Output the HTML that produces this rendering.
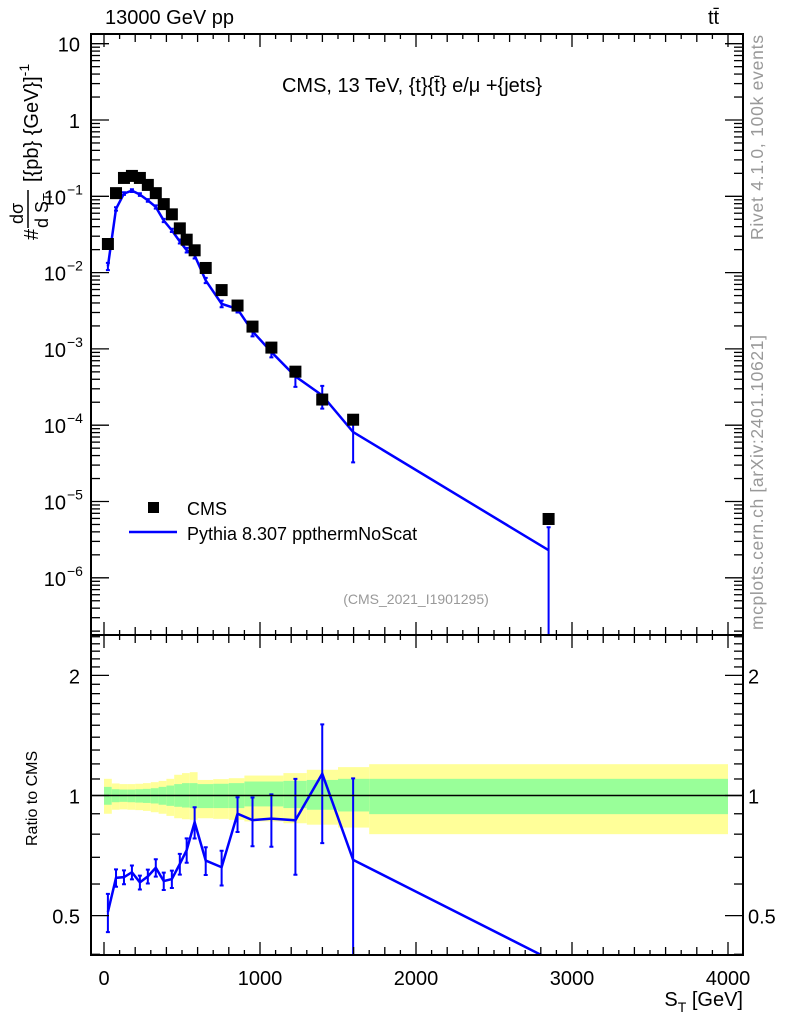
<!DOCTYPE html>
<html><head><meta charset="utf-8"><style>
html,body{margin:0;padding:0;background:#fff;overflow:hidden;width:786px;height:1024px;}
svg{display:block;font-family:"Liberation Sans",sans-serif;}
</style></head><body>
<svg id="chart" width="786" height="1024" viewBox="0 0 786 1024" xmlns="http://www.w3.org/2000/svg" overflow="hidden">
<g id="ratio-bands"></g>
<g id="ratio-series"></g>
<g id="main-series"></g>
<g id="axes"></g>
<text x="105" y="24" font-size="20">13000 GeV pp</text>
<text x="708" y="24" font-size="20">tt̄</text>
<text x="412" y="92" font-size="20" text-anchor="middle">CMS, 13 TeV, {t}{t̄} e/μ +{jets}</text>
<text x="416" y="604" font-size="14" fill="#999" text-anchor="middle">(CMS_2021_I1901295)</text>
<rect x="148" y="502" width="11" height="11" fill="#000"/>
<text x="187" y="515" font-size="18">CMS</text>
<line x1="129" y1="532" x2="177" y2="532" stroke="#0000ff" stroke-width="2.5"/>
<text x="187" y="540" font-size="18">Pythia 8.307 ppthermNoScat</text>
<text transform="translate(763,240) rotate(-90)" font-size="17.5" fill="#999" textLength="205">Rivet 4.1.0,  100k events</text>
<text transform="translate(763,630) rotate(-90)" font-size="17.5" fill="#999" textLength="295">mcplots.cern.ch [arXiv:2401.10621]</text>
<g transform="rotate(-90)">
  <text x="-240" y="38" font-size="20">#</text>
  <text x="-224" y="23" font-size="18">dσ</text>
  <line x1="-228" y1="28" x2="-190" y2="28" stroke="#000" stroke-width="1.5"/>
  <text x="-228" y="48" font-size="18">d S<tspan dy="4" font-size="13">T</tspan></text>
  <text x="-182" y="38" font-size="20">[{pb} {GeV}]<tspan dy="-9" font-size="14">-1</tspan></text>
</g>
<text transform="translate(37,846) rotate(-90)" font-size="16">Ratio to CMS</text>
<text x="743" y="1006" font-size="20" text-anchor="end">S<tspan dy="6" font-size="14">T</tspan><tspan dy="-6"> [GeV]</tspan></text>
</svg>
<script>
const binLow  = [0,50,100,150,200,250,300,350,400,450,500,550,600,700,800,900,1000,1150,1300,1500,1700];
const binHigh = [50,100,150,200,250,300,350,400,450,500,550,600,700,800,900,1000,1150,1300,1500,1700,4000];
const xCenters = [25,77,128,179,230,281,332,383,435,486,530,581,652,754,856,952,1073,1227,1399,1597,2850];
const cmsValues = [0.0237,0.110,0.174,0.185,0.174,0.141,0.110,0.079,0.058,0.038,0.027,0.0196,0.0115,0.0059,0.0037,0.00196,0.00104,0.000503,0.000217,0.000118,5.9e-6];
const mcValues = [0.0121,0.0684,0.1086,0.1188,0.1054,0.0884,0.0725,0.0482,0.0358,0.0256,0.0197,0.0168,0.0079,0.0039,0.00333,0.0017,0.00091,0.000436,0.000246,0.0000814,2.3e-6];
const mcRelErr = [0.11,0.05,0.04,0.04,0.04,0.04,0.05,0.05,0.05,0.06,0.07,0.09,0.08,0.1,0.1,0.14,0.15,0.27,0.33,0.6,1.0];
const yellowUp = [1.101,1.072,1.068,1.068,1.070,1.074,1.080,1.088,1.101,1.127,1.138,1.144,1.094,1.099,1.105,1.122,1.122,1.138,1.160,1.178,1.198];
const yellowDn = [0.900,0.921,0.923,0.921,0.919,0.915,0.908,0.900,0.889,0.877,0.872,0.869,0.877,0.874,0.869,0.861,0.861,0.852,0.845,0.831,0.800];
const greenUp = [1.051,1.037,1.035,1.035,1.037,1.039,1.043,1.051,1.059,1.068,1.074,1.074,1.068,1.070,1.074,1.084,1.084,1.088,1.094,1.101,1.101];
const greenDn = [0.948,0.962,0.964,0.962,0.960,0.958,0.955,0.948,0.942,0.937,0.933,0.930,0.930,0.930,0.930,0.939,0.939,0.930,0.921,0.912,0.898];
const xTicks = [0,1000,2000,3000,4000];

const NS="http://www.w3.org/2000/svg";
const L=91,R=743,MT=34,MB=635,RT=635,RB=955;
const X=v=>104+v*0.1560;
const YM=v=>120-Math.log10(v)*76.3;
const YR=v=>795.5-Math.log10(v)*399;
function mk(tag,attrs,parent){const e=document.createElementNS(NS,tag);for(const k in attrs)e.setAttribute(k,attrs[k]);parent.appendChild(e);return e;}
const clipM=v=>Math.max(MT-5,Math.min(MB+5,v));
const clipR=v=>Math.max(RT-5,Math.min(RB+5,v));

const gB=document.getElementById('ratio-bands');
for(let i=0;i<binLow.length;i++){
  const x1=X(binLow[i]),x2=X(binHigh[i]);
  const y=mk('rect',{x:x1,y:YR(yellowUp[i]),width:x2-x1,height:YR(yellowDn[i])-YR(yellowUp[i]),fill:'#ffff99'},gB);
  
  
  const g=mk('rect',{x:x1,y:YR(greenUp[i]),width:x2-x1,height:YR(greenDn[i])-YR(greenUp[i]),fill:'#99ff99'},gB);
  
  
}
const ax=document.getElementById('axes');
mk('line',{x1:L,x2:R,y1:YR(1),y2:YR(1),stroke:'#000','stroke-width':1.5},ax);

const defs=mk('defs',{},document.getElementById('chart'));
const cm=mk('clipPath',{id:'cm'},defs);mk('rect',{x:L,y:MT,width:R-L,height:MB-MT},cm);
const cr=mk('clipPath',{id:'cr'},defs);mk('rect',{x:L,y:RT,width:R-L,height:RB-RT},cr);

const gM=document.getElementById('main-series');gM.setAttribute('clip-path','url(#cm)');
let pts=xCenters.map((x,i)=>X(x)+','+clipM(YM(mcValues[i]))).join(' ');
const ml=mk('polyline',{points:pts,fill:'none',stroke:'#0000ff','stroke-width':2.5},gM);


xCenters.forEach((x,i)=>{
  const cx=X(x),lo=mcValues[i]*(1-mcRelErr[i]),hi=mcValues[i]*(1+mcRelErr[i]);
  const y1=clipM(YM(hi)),y2=lo>0?clipM(YM(lo)):MB+5;
  const e=mk('path',{d:`M${cx},${y1}V${y2}M${cx-2},${y1}h4M${cx-2},${y2}h4`,stroke:'#0000ff','stroke-width':2,fill:'none'},gM);
  
  
});
xCenters.forEach((x,i)=>{
  const r=mk('rect',{x:X(x)-6,y:YM(cmsValues[i])-6,width:12,height:12,fill:'#000'},gM);
  
  
});

const gR=document.getElementById('ratio-series');gR.setAttribute('clip-path','url(#cr)');
const ratios=mcValues.map((v,i)=>v/cmsValues[i]);
pts=xCenters.map((x,i)=>X(x)+','+YR(ratios[i])).join(' ');
const rl=mk('polyline',{points:pts,fill:'none',stroke:'#0000ff','stroke-width':2.5},gR);


xCenters.forEach((x,i)=>{
  const yc=YR(ratios[i]);if(yc>RB||yc<RT)return;
  const cx=X(x),lo=ratios[i]*(1-mcRelErr[i]),hi=ratios[i]*(1+mcRelErr[i]);
  const y1=clipR(YR(hi)),y2=lo>0?clipR(YR(lo)):RB+5;
  const e=mk('path',{d:`M${cx},${y1}V${y2}M${cx-2},${y1}h4M${cx-2},${y2}h4`,stroke:'#0000ff','stroke-width':2,fill:'none'},gR);
  
  
});

[[MT,MB],[RT,RB]].forEach(([t,b])=>mk('rect',{x:L,y:t,width:R-L,height:b-t,fill:'none',stroke:'#000','stroke-width':2},ax));
function xt(y,dir){
  for(let v=0;v<=4000;v+=100){
    const len=v%1000===0?13:(v%200===0?8:5);
    mk('line',{x1:X(v),x2:X(v),y1:y,y2:y+dir*len,stroke:'#000','stroke-width':1.3},ax);
  }
}
xt(MT,1);xt(MB,-1);xt(RT,1);xt(RB,-1);
xTicks.forEach(v=>{const t=mk('text',{x:X(v),y:985,'font-size':20,'text-anchor':'middle'},ax);t.textContent=v;

});
for(let d=-7;d<=1;d++){
  for(let m=1;m<=9;m++){
    const v=m*Math.pow(10,d);const y=YM(v);if(y<MT||y>MB)continue;
    const len=m===1?18:9;
    mk('line',{x1:L,x2:L+len,y1:y,y2:y,stroke:'#000','stroke-width':1.3},ax);
    mk('line',{x1:R,x2:R-len,y1:y,y2:y,stroke:'#000','stroke-width':1.3},ax);
  }
}
const labs=[[10,'10',null],[1,'1',null],[0.1,'10','−1'],[0.01,'10','−2'],[0.001,'10','−3'],[1e-4,'10','−4'],[1e-5,'10','−5'],[1e-6,'10','−6']];
labs.forEach(([v,b,e])=>{
  const t=mk('text',{x:e?66:80,y:YM(v)+8,'font-size':20,'text-anchor':'end'},ax);
  t.textContent=b;
  
  
  if(e){const s=mk('text',{x:67,y:YM(v)-2,'font-size':14},ax);s.textContent=e;}
});
for(let v=0.4;v<=2.5001;v+=0.1){
  const y=YR(v);if(y<RT||y>RB)continue;
  const maj=[0.5,1,2].some(m=>Math.abs(m-v)<1e-6);
  const len=maj?18:9;
  mk('line',{x1:L,x2:L+len,y1:y,y2:y,stroke:'#000','stroke-width':1.3},ax);
  mk('line',{x1:R,x2:R-len,y1:y,y2:y,stroke:'#000','stroke-width':1.3},ax);
}
[[2,'2'],[1,'1'],[0.5,'0.5']].forEach(([v,s])=>{
  const a=mk('text',{x:80,y:YR(v)+8,'font-size':20,'text-anchor':'end'},ax);a.textContent=s;
  
  
  const b=mk('text',{x:748,y:YR(v)+8,'font-size':20},ax);b.textContent=s;
  
  
});
</script>
</body></html>
